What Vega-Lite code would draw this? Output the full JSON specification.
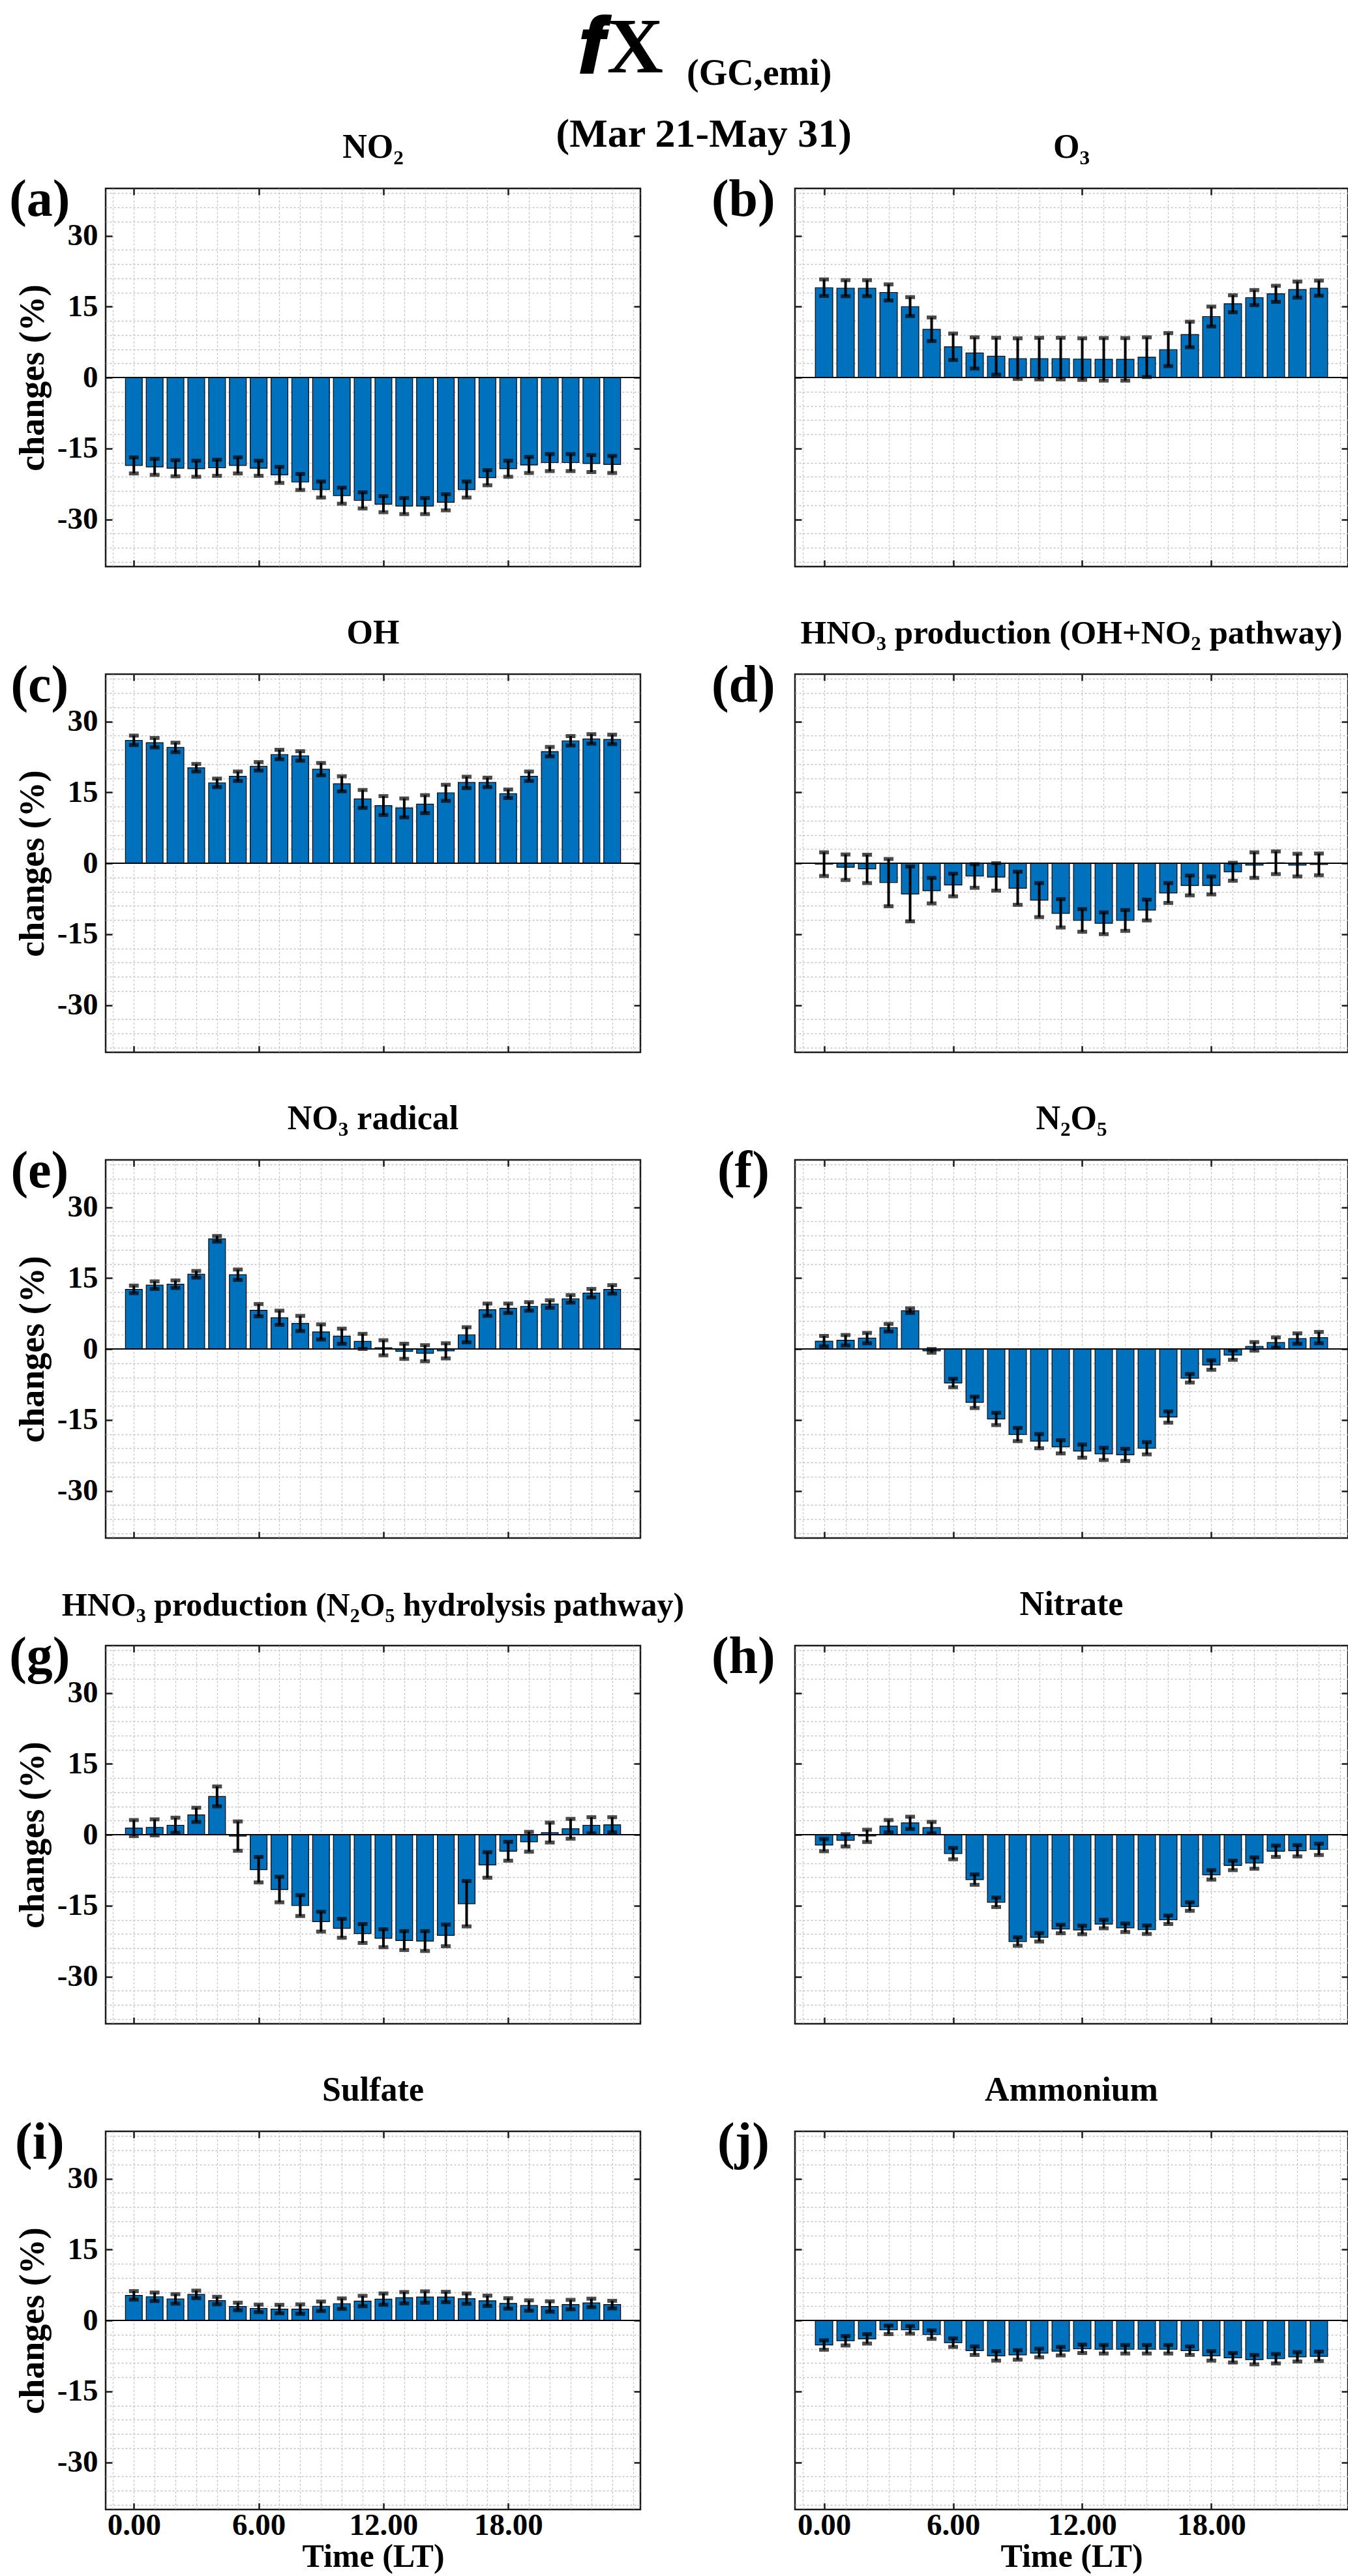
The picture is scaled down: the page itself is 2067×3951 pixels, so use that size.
{
"$schema": "https://vega.github.io/schema/vega-lite/v6.json",
"padding": {"left": 12, "top": 14, "right": 4, "bottom": 2},
"background": "white",
"config": {
  "font": "Liberation Serif",
  "view": {"stroke": "#1a1a1a", "strokeWidth": 2.5},
  "title": {"fontSize": 52, "fontWeight": "bold", "color": "#000", "offset": 14, "anchor": "middle"},
  "axis": {"grid": true, "gridColor": "#a8a8a8", "gridDash": [3, 3], "gridWidth": 1.5, "ticks": false, "domain": false, "labelFontSize": 47, "labelFontWeight": "bold", "labelColor": "#000", "titleFontSize": 54, "titleFontWeight": "bold", "titleColor": "#000", "tickColor": "#1a1a1a", "tickWidth": 2.5},
  "point": {"opacity": 0},
  "text": {"fontSize": 80, "fontWeight": "bold", "align": "center", "baseline": "middle", "color": "#000"}
},
"datasets": {
  "bars": [
{"p":"a","h":0,"v":-18.6,"e":1.7},{"p":"a","h":1,"v":-18.9,"e":1.7},{"p":"a","h":2,"v":-19.2,"e":1.7},{"p":"a","h":3,"v":-19.3,"e":1.7},{"p":"a","h":4,"v":-19.1,"e":1.7},{"p":"a","h":5,"v":-18.6,"e":1.7},{"p":"a","h":6,"v":-19.2,"e":1.6},{"p":"a","h":7,"v":-20.6,"e":1.7},{"p":"a","h":8,"v":-22.1,"e":1.7},{"p":"a","h":9,"v":-23.7,"e":1.7},{"p":"a","h":10,"v":-25.0,"e":1.7},{"p":"a","h":11,"v":-26.0,"e":1.7},{"p":"a","h":12,"v":-26.8,"e":1.7},{"p":"a","h":13,"v":-27.2,"e":1.7},{"p":"a","h":14,"v":-27.2,"e":1.7},{"p":"a","h":15,"v":-26.4,"e":1.7},{"p":"a","h":16,"v":-23.7,"e":1.7},{"p":"a","h":17,"v":-21.2,"e":1.6},{"p":"a","h":18,"v":-19.3,"e":1.7},{"p":"a","h":19,"v":-18.5,"e":1.7},{"p":"a","h":20,"v":-18.0,"e":1.8},{"p":"a","h":21,"v":-18.0,"e":1.8},{"p":"a","h":22,"v":-18.2,"e":1.8},{"p":"a","h":23,"v":-18.4,"e":1.8},
{"p":"b","h":0,"v":19.0,"e":1.75},{"p":"b","h":1,"v":18.9,"e":1.7},{"p":"b","h":2,"v":18.9,"e":1.7},{"p":"b","h":3,"v":18.0,"e":1.7},{"p":"b","h":4,"v":15.0,"e":2.0},{"p":"b","h":5,"v":10.2,"e":2.5},{"p":"b","h":6,"v":6.5,"e":2.8},{"p":"b","h":7,"v":5.2,"e":3.3},{"p":"b","h":8,"v":4.5,"e":3.9},{"p":"b","h":9,"v":4.0,"e":4.3},{"p":"b","h":10,"v":4.0,"e":4.4},{"p":"b","h":11,"v":4.0,"e":4.4},{"p":"b","h":12,"v":3.9,"e":4.4},{"p":"b","h":13,"v":3.85,"e":4.5},{"p":"b","h":14,"v":3.85,"e":4.5},{"p":"b","h":15,"v":4.3,"e":4.2},{"p":"b","h":16,"v":5.9,"e":3.5},{"p":"b","h":17,"v":9.1,"e":2.7},{"p":"b","h":18,"v":12.9,"e":2.1},{"p":"b","h":19,"v":15.6,"e":1.8},{"p":"b","h":20,"v":16.9,"e":1.6},{"p":"b","h":21,"v":17.7,"e":1.7},{"p":"b","h":22,"v":18.6,"e":1.7},{"p":"b","h":23,"v":18.9,"e":1.6},
{"p":"c","h":0,"v":26.0,"e":1.0},{"p":"c","h":1,"v":25.5,"e":1.0},{"p":"c","h":2,"v":24.5,"e":1.0},{"p":"c","h":3,"v":20.2,"e":0.8},{"p":"c","h":4,"v":17.0,"e":0.9},{"p":"c","h":5,"v":18.4,"e":1.0},{"p":"c","h":6,"v":20.5,"e":0.9},{"p":"c","h":7,"v":23.0,"e":1.0},{"p":"c","h":8,"v":22.7,"e":1.0},{"p":"c","h":9,"v":19.9,"e":1.3},{"p":"c","h":10,"v":16.8,"e":1.6},{"p":"c","h":11,"v":13.6,"e":1.9},{"p":"c","h":12,"v":12.2,"e":2.0},{"p":"c","h":13,"v":11.7,"e":2.0},{"p":"c","h":14,"v":12.5,"e":1.9},{"p":"c","h":15,"v":14.9,"e":1.7},{"p":"c","h":16,"v":17.1,"e":1.2},{"p":"c","h":17,"v":17.1,"e":1.0},{"p":"c","h":18,"v":14.7,"e":0.9},{"p":"c","h":19,"v":18.4,"e":1.0},{"p":"c","h":20,"v":23.6,"e":1.0},{"p":"c","h":21,"v":25.9,"e":1.0},{"p":"c","h":22,"v":26.3,"e":1.0},{"p":"c","h":23,"v":26.2,"e":1.0},
{"p":"d","h":0,"v":-0.2,"e":2.5},{"p":"d","h":1,"v":-0.85,"e":2.7},{"p":"d","h":2,"v":-1.2,"e":3.0},{"p":"d","h":3,"v":-4.1,"e":5.0},{"p":"d","h":4,"v":-6.5,"e":5.8},{"p":"d","h":5,"v":-5.8,"e":2.7},{"p":"d","h":6,"v":-4.6,"e":2.4},{"p":"d","h":7,"v":-2.7,"e":2.5},{"p":"d","h":8,"v":-2.9,"e":2.9},{"p":"d","h":9,"v":-5.3,"e":3.5},{"p":"d","h":10,"v":-7.8,"e":3.6},{"p":"d","h":11,"v":-10.6,"e":3.0},{"p":"d","h":12,"v":-12.1,"e":2.4},{"p":"d","h":13,"v":-12.7,"e":2.3},{"p":"d","h":14,"v":-12.1,"e":2.2},{"p":"d","h":15,"v":-9.9,"e":2.2},{"p":"d","h":16,"v":-6.3,"e":2.1},{"p":"d","h":17,"v":-4.7,"e":2.1},{"p":"d","h":18,"v":-4.7,"e":1.9},{"p":"d","h":19,"v":-1.8,"e":1.9},{"p":"d","h":20,"v":-0.4,"e":2.7},{"p":"d","h":21,"v":0.1,"e":2.4},{"p":"d","h":22,"v":-0.4,"e":2.4},{"p":"d","h":23,"v":-0.25,"e":2.3},
{"p":"e","h":0,"v":12.6,"e":0.8},{"p":"e","h":1,"v":13.5,"e":0.8},{"p":"e","h":2,"v":13.7,"e":0.8},{"p":"e","h":3,"v":15.8,"e":0.7},{"p":"e","h":4,"v":23.3,"e":0.6},{"p":"e","h":5,"v":15.7,"e":1.1},{"p":"e","h":6,"v":8.2,"e":1.3},{"p":"e","h":7,"v":6.6,"e":1.5},{"p":"e","h":8,"v":5.4,"e":1.6},{"p":"e","h":9,"v":3.6,"e":1.6},{"p":"e","h":10,"v":2.7,"e":1.6},{"p":"e","h":11,"v":1.6,"e":1.6},{"p":"e","h":12,"v":0.25,"e":1.6},{"p":"e","h":13,"v":-0.5,"e":1.6},{"p":"e","h":14,"v":-0.9,"e":1.7},{"p":"e","h":15,"v":-0.4,"e":1.6},{"p":"e","h":16,"v":3.0,"e":1.6},{"p":"e","h":17,"v":8.3,"e":1.3},{"p":"e","h":18,"v":8.6,"e":1.0},{"p":"e","h":19,"v":9.0,"e":0.9},{"p":"e","h":20,"v":9.5,"e":0.8},{"p":"e","h":21,"v":10.6,"e":0.8},{"p":"e","h":22,"v":11.8,"e":0.9},{"p":"e","h":23,"v":12.6,"e":0.9},
{"p":"f","h":0,"v":1.65,"e":1.1},{"p":"f","h":1,"v":1.85,"e":1.1},{"p":"f","h":2,"v":2.3,"e":1.1},{"p":"f","h":3,"v":4.5,"e":0.8},{"p":"f","h":4,"v":8.1,"e":0.5},{"p":"f","h":5,"v":-0.4,"e":0.4},{"p":"f","h":6,"v":-7.2,"e":0.9},{"p":"f","h":7,"v":-11.3,"e":1.2},{"p":"f","h":8,"v":-14.8,"e":1.3},{"p":"f","h":9,"v":-18.1,"e":1.4},{"p":"f","h":10,"v":-19.5,"e":1.5},{"p":"f","h":11,"v":-20.7,"e":1.4},{"p":"f","h":12,"v":-21.6,"e":1.4},{"p":"f","h":13,"v":-22.2,"e":1.3},{"p":"f","h":14,"v":-22.4,"e":1.3},{"p":"f","h":15,"v":-21.0,"e":1.3},{"p":"f","h":16,"v":-14.4,"e":1.2},{"p":"f","h":17,"v":-6.2,"e":0.9},{"p":"f","h":18,"v":-3.4,"e":1.0},{"p":"f","h":19,"v":-1.3,"e":1.0},{"p":"f","h":20,"v":0.55,"e":0.9},{"p":"f","h":21,"v":1.35,"e":1.1},{"p":"f","h":22,"v":2.2,"e":1.1},{"p":"f","h":23,"v":2.4,"e":1.2},
{"p":"g","h":0,"v":1.4,"e":1.7},{"p":"g","h":1,"v":1.55,"e":1.7},{"p":"g","h":2,"v":2.0,"e":1.6},{"p":"g","h":3,"v":4.2,"e":1.5},{"p":"g","h":4,"v":8.1,"e":2.1},{"p":"g","h":5,"v":-0.3,"e":3.1},{"p":"g","h":6,"v":-7.4,"e":2.7},{"p":"g","h":7,"v":-11.6,"e":2.7},{"p":"g","h":8,"v":-15.0,"e":2.2},{"p":"g","h":9,"v":-18.4,"e":2.1},{"p":"g","h":10,"v":-19.8,"e":2.0},{"p":"g","h":11,"v":-20.9,"e":2.0},{"p":"g","h":12,"v":-21.9,"e":1.9},{"p":"g","h":13,"v":-22.4,"e":2.0},{"p":"g","h":14,"v":-22.5,"e":2.1},{"p":"g","h":15,"v":-21.3,"e":2.3},{"p":"g","h":16,"v":-14.6,"e":4.8},{"p":"g","h":17,"v":-6.4,"e":2.7},{"p":"g","h":18,"v":-3.5,"e":2.0},{"p":"g","h":19,"v":-1.5,"e":2.1},{"p":"g","h":20,"v":0.45,"e":2.1},{"p":"g","h":21,"v":1.25,"e":2.1},{"p":"g","h":22,"v":2.0,"e":1.7},{"p":"g","h":23,"v":2.1,"e":1.6},
{"p":"h","h":0,"v":-2.2,"e":1.3},{"p":"h","h":1,"v":-1.2,"e":1.3},{"p":"h","h":2,"v":-0.25,"e":1.3},{"p":"h","h":3,"v":1.8,"e":1.3},{"p":"h","h":4,"v":2.5,"e":1.3},{"p":"h","h":5,"v":1.5,"e":1.2},{"p":"h","h":6,"v":-4.0,"e":1.2},{"p":"h","h":7,"v":-9.5,"e":1.1},{"p":"h","h":8,"v":-14.3,"e":1.0},{"p":"h","h":9,"v":-22.6,"e":0.9},{"p":"h","h":10,"v":-21.7,"e":0.9},{"p":"h","h":11,"v":-19.95,"e":0.9},{"p":"h","h":12,"v":-20.15,"e":0.9},{"p":"h","h":13,"v":-18.9,"e":0.9},{"p":"h","h":14,"v":-19.7,"e":0.9},{"p":"h","h":15,"v":-20.1,"e":0.9},{"p":"h","h":16,"v":-18.0,"e":0.9},{"p":"h","h":17,"v":-15.2,"e":0.9},{"p":"h","h":18,"v":-8.5,"e":1.0},{"p":"h","h":19,"v":-6.5,"e":1.0},{"p":"h","h":20,"v":-6.0,"e":1.2},{"p":"h","h":21,"v":-3.5,"e":1.2},{"p":"h","h":22,"v":-3.4,"e":1.2},{"p":"h","h":23,"v":-3.1,"e":1.2},
{"p":"i","h":0,"v":5.3,"e":0.9},{"p":"i","h":1,"v":5.0,"e":0.9},{"p":"i","h":2,"v":4.55,"e":1.0},{"p":"i","h":3,"v":5.5,"e":0.8},{"p":"i","h":4,"v":4.2,"e":0.8},{"p":"i","h":5,"v":2.95,"e":0.8},{"p":"i","h":6,"v":2.55,"e":0.8},{"p":"i","h":7,"v":2.4,"e":0.9},{"p":"i","h":8,"v":2.4,"e":1.0},{"p":"i","h":9,"v":3.0,"e":1.0},{"p":"i","h":10,"v":3.55,"e":1.1},{"p":"i","h":11,"v":4.1,"e":1.1},{"p":"i","h":12,"v":4.5,"e":1.2},{"p":"i","h":13,"v":4.8,"e":1.2},{"p":"i","h":14,"v":4.95,"e":1.2},{"p":"i","h":15,"v":4.95,"e":1.1},{"p":"i","h":16,"v":4.6,"e":1.1},{"p":"i","h":17,"v":4.15,"e":1.1},{"p":"i","h":18,"v":3.6,"e":1.1},{"p":"i","h":19,"v":3.15,"e":1.1},{"p":"i","h":20,"v":2.95,"e":1.1},{"p":"i","h":21,"v":3.35,"e":1.0},{"p":"i","h":22,"v":3.7,"e":0.9},{"p":"i","h":23,"v":3.35,"e":0.8},
{"p":"j","h":0,"v":-5.2,"e":1.0},{"p":"j","h":1,"v":-4.3,"e":1.0},{"p":"j","h":2,"v":-3.9,"e":1.0},{"p":"j","h":3,"v":-2.0,"e":0.9},{"p":"j","h":4,"v":-2.0,"e":0.8},{"p":"j","h":5,"v":-3.0,"e":0.9},{"p":"j","h":6,"v":-4.7,"e":0.9},{"p":"j","h":7,"v":-6.4,"e":0.9},{"p":"j","h":8,"v":-7.5,"e":1.0},{"p":"j","h":9,"v":-7.3,"e":1.0},{"p":"j","h":10,"v":-6.9,"e":0.9},{"p":"j","h":11,"v":-6.5,"e":0.9},{"p":"j","h":12,"v":-6.0,"e":0.9},{"p":"j","h":13,"v":-6.1,"e":0.9},{"p":"j","h":14,"v":-6.1,"e":0.9},{"p":"j","h":15,"v":-6.1,"e":0.9},{"p":"j","h":16,"v":-6.1,"e":0.9},{"p":"j","h":17,"v":-6.4,"e":0.9},{"p":"j","h":18,"v":-7.5,"e":1.0},{"p":"j","h":19,"v":-7.9,"e":1.0},{"p":"j","h":20,"v":-8.3,"e":1.0},{"p":"j","h":21,"v":-8.1,"e":1.0},{"p":"j","h":22,"v":-7.7,"e":1.0},{"p":"j","h":23,"v":-7.6,"e":1.0}
  ]
},
"title": {"text": "𝒇X\u2800\u2800", "subtitle": "\u2800\u2800\u2800\u2800\u2800\u2800(GC,emi)", "fontSize": 120, "fontWeight": "bold", "subtitleFontSize": 56, "subtitleFontWeight": "bold", "subtitleColor": "#000", "subtitleFont": "Liberation Serif", "subtitlePadding": -50, "offset": 33, "dx": 0, "anchor": "middle"},
"vconcat": [
{
"title": {"text": "(Mar 21-May 31)", "fontSize": 62, "offset": -39, "dx": 38},
"columns": 2,
"spacing": {"row": 165, "column": 237},
"bounds": "flush",
"align": "each",
"concat": [
{"width": 820, "height": 580, "title": "NO₂", "data": {"name": "bars"}, "transform": [{"filter": "datum.p === 'a'"}],
 "resolve": {"axis": {"x": "independent", "y": "independent"}},
 "layer": [
  {"mark": "point", "encoding": {"x": {"field": "h", "type": "quantitative", "scale": {"domain": [-1.2, 24.2], "nice": false, "zero": false}, "axis": {"orient": "bottom", "values": [-1,0,1,2,3,4,5,6,7,8,9,10,11,12,13,14,15,16,17,18,19,20,21,22,23,24], "labels": false, "title": null, "gridColor": "#c4c4c4", "gridWidth": 1.3}}, "y": {"field": "v", "type": "quantitative", "scale": {"domain": [-40, 40], "nice": false}, "axis": {"orient": "left", "values": [-39,-36,-33,-27,-24,-21,-18,-12,-9,-6,-3,3,6,9,12,18,21,24,27,33,36,39], "labels": false, "title": null, "gridColor": "#c4c4c4", "gridWidth": 1.3}}}},
  {"mark": "point", "encoding": {"x": {"field": "h", "type": "quantitative", "axis": {"orient": "top", "values": [0, 6, 12, 18], "grid": false, "labels": false, "ticks": true, "tickSize": -10, "title": null}}, "y": {"field": "v", "type": "quantitative", "axis": {"orient": "right", "values": [-30, -15, 0, 15, 30], "grid": false, "labels": false, "ticks": true, "tickSize": -10, "title": null}}}},
  {"mark": "point", "encoding": {"x": {"field": "h", "type": "quantitative", "axis": {"orient": "bottom", "values": [0, 6, 12, 18], "grid": false, "labels": false, "ticks": true, "tickSize": -10, "title": null}}, "y": {"field": "v", "type": "quantitative", "axis": {"orient": "left", "values": [-30, -15, 0, 15, 30], "grid": false, "labels": false, "ticks": true, "tickSize": -10, "title": null}}}},
  {"mark": {"type": "bar", "width": 25.8, "color": "#0072BD", "stroke": "#000", "strokeWidth": 1.2},
   "encoding": {"x": {"field": "h", "type": "quantitative", "axis": {"orient": "bottom", "values": [0, 6, 12, 18], "labels": false, "title": null}},
                "y": {"field": "v", "type": "quantitative", "axis": {"orient": "left", "values": [-30, -15, 0, 15, 30], "labelExpr": "'' + datum.value", "labelPadding": 12, "title": "changes (%)", "titlePadding": 10}}}},
  {"data": {"values": [{"z": 0}]}, "mark": {"type": "rule", "color": "#000", "strokeWidth": 2}, "encoding": {"y": {"field": "z", "type": "quantitative", "axis": null}}},
  {"mark": {"type": "errorbar", "color": "#000", "thickness": 4, "ticks": {"size": 15, "thickness": 6}},
   "encoding": {"x": {"field": "h", "type": "quantitative", "axis": null}, "y": {"field": "v", "type": "quantitative", "axis": null}, "yError": {"field": "e"}}},
  {"data": {"values": [{"l": "(a)"}]}, "mark": "text", "encoding": {"text": {"field": "l"}, "x": {"datum": -4.53, "type": "quantitative", "axis": null}, "y": {"datum": 37.5, "type": "quantitative", "axis": null}}}
 ]},
{"width": 848, "height": 580, "title": "O₃", "data": {"name": "bars"}, "transform": [{"filter": "datum.p === 'b'"}],
 "resolve": {"axis": {"x": "independent", "y": "independent"}},
 "layer": [
  {"mark": "point", "encoding": {"x": {"field": "h", "type": "quantitative", "scale": {"domain": [-1.2, 24.2], "nice": false, "zero": false}, "axis": {"orient": "bottom", "values": [-1,0,1,2,3,4,5,6,7,8,9,10,11,12,13,14,15,16,17,18,19,20,21,22,23,24], "labels": false, "title": null, "gridColor": "#c4c4c4", "gridWidth": 1.3}}, "y": {"field": "v", "type": "quantitative", "scale": {"domain": [-40, 40], "nice": false}, "axis": {"orient": "left", "values": [-39,-36,-33,-27,-24,-21,-18,-12,-9,-6,-3,3,6,9,12,18,21,24,27,33,36,39], "labels": false, "title": null, "gridColor": "#c4c4c4", "gridWidth": 1.3}}}},
  {"mark": "point", "encoding": {"x": {"field": "h", "type": "quantitative", "axis": {"orient": "top", "values": [0, 6, 12, 18], "grid": false, "labels": false, "ticks": true, "tickSize": -10, "title": null}}, "y": {"field": "v", "type": "quantitative", "axis": {"orient": "right", "values": [-30, -15, 0, 15, 30], "grid": false, "labels": false, "ticks": true, "tickSize": -10, "title": null}}}},
  {"mark": "point", "encoding": {"x": {"field": "h", "type": "quantitative", "axis": {"orient": "bottom", "values": [0, 6, 12, 18], "grid": false, "labels": false, "ticks": true, "tickSize": -10, "title": null}}, "y": {"field": "v", "type": "quantitative", "axis": {"orient": "left", "values": [-30, -15, 0, 15, 30], "grid": false, "labels": false, "ticks": true, "tickSize": -10, "title": null}}}},
  {"mark": {"type": "bar", "width": 26.7, "color": "#0072BD", "stroke": "#000", "strokeWidth": 1.2},
   "encoding": {"x": {"field": "h", "type": "quantitative", "axis": {"orient": "bottom", "values": [0, 6, 12, 18], "labels": false, "title": null}},
                "y": {"field": "v", "type": "quantitative", "axis": {"orient": "left", "values": [-30, -15, 0, 15, 30], "labels": false, "title": null}}}},
  {"data": {"values": [{"z": 0}]}, "mark": {"type": "rule", "color": "#000", "strokeWidth": 2}, "encoding": {"y": {"field": "z", "type": "quantitative", "axis": null}}},
  {"mark": {"type": "errorbar", "color": "#000", "thickness": 4, "ticks": {"size": 15, "thickness": 6}},
   "encoding": {"x": {"field": "h", "type": "quantitative", "axis": null}, "y": {"field": "v", "type": "quantitative", "axis": null}, "yError": {"field": "e"}}},
  {"data": {"values": [{"l": "(b)"}]}, "mark": "text", "encoding": {"text": {"field": "l"}, "x": {"datum": -3.75, "type": "quantitative", "axis": null}, "y": {"datum": 37.5, "type": "quantitative", "axis": null}}}
 ]},
{"width": 820, "height": 580, "title": "OH", "data": {"name": "bars"}, "transform": [{"filter": "datum.p === 'c'"}],
 "resolve": {"axis": {"x": "independent", "y": "independent"}},
 "layer": [
  {"mark": "point", "encoding": {"x": {"field": "h", "type": "quantitative", "scale": {"domain": [-1.2, 24.2], "nice": false, "zero": false}, "axis": {"orient": "bottom", "values": [-1,0,1,2,3,4,5,6,7,8,9,10,11,12,13,14,15,16,17,18,19,20,21,22,23,24], "labels": false, "title": null, "gridColor": "#c4c4c4", "gridWidth": 1.3}}, "y": {"field": "v", "type": "quantitative", "scale": {"domain": [-40, 40], "nice": false}, "axis": {"orient": "left", "values": [-39,-36,-33,-27,-24,-21,-18,-12,-9,-6,-3,3,6,9,12,18,21,24,27,33,36,39], "labels": false, "title": null, "gridColor": "#c4c4c4", "gridWidth": 1.3}}}},
  {"mark": "point", "encoding": {"x": {"field": "h", "type": "quantitative", "axis": {"orient": "top", "values": [0, 6, 12, 18], "grid": false, "labels": false, "ticks": true, "tickSize": -10, "title": null}}, "y": {"field": "v", "type": "quantitative", "axis": {"orient": "right", "values": [-30, -15, 0, 15, 30], "grid": false, "labels": false, "ticks": true, "tickSize": -10, "title": null}}}},
  {"mark": "point", "encoding": {"x": {"field": "h", "type": "quantitative", "axis": {"orient": "bottom", "values": [0, 6, 12, 18], "grid": false, "labels": false, "ticks": true, "tickSize": -10, "title": null}}, "y": {"field": "v", "type": "quantitative", "axis": {"orient": "left", "values": [-30, -15, 0, 15, 30], "grid": false, "labels": false, "ticks": true, "tickSize": -10, "title": null}}}},
  {"mark": {"type": "bar", "width": 25.8, "color": "#0072BD", "stroke": "#000", "strokeWidth": 1.2},
   "encoding": {"x": {"field": "h", "type": "quantitative", "axis": {"orient": "bottom", "values": [0, 6, 12, 18], "labels": false, "title": null}},
                "y": {"field": "v", "type": "quantitative", "axis": {"orient": "left", "values": [-30, -15, 0, 15, 30], "labelExpr": "'' + datum.value", "labelPadding": 12, "title": "changes (%)", "titlePadding": 10}}}},
  {"data": {"values": [{"z": 0}]}, "mark": {"type": "rule", "color": "#000", "strokeWidth": 2}, "encoding": {"y": {"field": "z", "type": "quantitative", "axis": null}}},
  {"mark": {"type": "errorbar", "color": "#000", "thickness": 4, "ticks": {"size": 15, "thickness": 6}},
   "encoding": {"x": {"field": "h", "type": "quantitative", "axis": null}, "y": {"field": "v", "type": "quantitative", "axis": null}, "yError": {"field": "e"}}},
  {"data": {"values": [{"l": "(c)"}]}, "mark": "text", "encoding": {"text": {"field": "l"}, "x": {"datum": -4.53, "type": "quantitative", "axis": null}, "y": {"datum": 37.5, "type": "quantitative", "axis": null}}}
 ]},
{"width": 848, "height": 580, "title": {"text": "HNO₃ production (OH+NO₂ pathway)", "fontSize": 51}, "data": {"name": "bars"}, "transform": [{"filter": "datum.p === 'd'"}],
 "resolve": {"axis": {"x": "independent", "y": "independent"}},
 "layer": [
  {"mark": "point", "encoding": {"x": {"field": "h", "type": "quantitative", "scale": {"domain": [-1.2, 24.2], "nice": false, "zero": false}, "axis": {"orient": "bottom", "values": [-1,0,1,2,3,4,5,6,7,8,9,10,11,12,13,14,15,16,17,18,19,20,21,22,23,24], "labels": false, "title": null, "gridColor": "#c4c4c4", "gridWidth": 1.3}}, "y": {"field": "v", "type": "quantitative", "scale": {"domain": [-40, 40], "nice": false}, "axis": {"orient": "left", "values": [-39,-36,-33,-27,-24,-21,-18,-12,-9,-6,-3,3,6,9,12,18,21,24,27,33,36,39], "labels": false, "title": null, "gridColor": "#c4c4c4", "gridWidth": 1.3}}}},
  {"mark": "point", "encoding": {"x": {"field": "h", "type": "quantitative", "axis": {"orient": "top", "values": [0, 6, 12, 18], "grid": false, "labels": false, "ticks": true, "tickSize": -10, "title": null}}, "y": {"field": "v", "type": "quantitative", "axis": {"orient": "right", "values": [-30, -15, 0, 15, 30], "grid": false, "labels": false, "ticks": true, "tickSize": -10, "title": null}}}},
  {"mark": "point", "encoding": {"x": {"field": "h", "type": "quantitative", "axis": {"orient": "bottom", "values": [0, 6, 12, 18], "grid": false, "labels": false, "ticks": true, "tickSize": -10, "title": null}}, "y": {"field": "v", "type": "quantitative", "axis": {"orient": "left", "values": [-30, -15, 0, 15, 30], "grid": false, "labels": false, "ticks": true, "tickSize": -10, "title": null}}}},
  {"mark": {"type": "bar", "width": 26.7, "color": "#0072BD", "stroke": "#000", "strokeWidth": 1.2},
   "encoding": {"x": {"field": "h", "type": "quantitative", "axis": {"orient": "bottom", "values": [0, 6, 12, 18], "labels": false, "title": null}},
                "y": {"field": "v", "type": "quantitative", "axis": {"orient": "left", "values": [-30, -15, 0, 15, 30], "labels": false, "title": null}}}},
  {"data": {"values": [{"z": 0}]}, "mark": {"type": "rule", "color": "#000", "strokeWidth": 2}, "encoding": {"y": {"field": "z", "type": "quantitative", "axis": null}}},
  {"mark": {"type": "errorbar", "color": "#000", "thickness": 4, "ticks": {"size": 15, "thickness": 6}},
   "encoding": {"x": {"field": "h", "type": "quantitative", "axis": null}, "y": {"field": "v", "type": "quantitative", "axis": null}, "yError": {"field": "e"}}},
  {"data": {"values": [{"l": "(d)"}]}, "mark": "text", "encoding": {"text": {"field": "l"}, "x": {"datum": -3.75, "type": "quantitative", "axis": null}, "y": {"datum": 37.5, "type": "quantitative", "axis": null}}}
 ]},
{"width": 820, "height": 580, "title": "NO₃ radical", "data": {"name": "bars"}, "transform": [{"filter": "datum.p === 'e'"}],
 "resolve": {"axis": {"x": "independent", "y": "independent"}},
 "layer": [
  {"mark": "point", "encoding": {"x": {"field": "h", "type": "quantitative", "scale": {"domain": [-1.2, 24.2], "nice": false, "zero": false}, "axis": {"orient": "bottom", "values": [-1,0,1,2,3,4,5,6,7,8,9,10,11,12,13,14,15,16,17,18,19,20,21,22,23,24], "labels": false, "title": null, "gridColor": "#c4c4c4", "gridWidth": 1.3}}, "y": {"field": "v", "type": "quantitative", "scale": {"domain": [-40, 40], "nice": false}, "axis": {"orient": "left", "values": [-39,-36,-33,-27,-24,-21,-18,-12,-9,-6,-3,3,6,9,12,18,21,24,27,33,36,39], "labels": false, "title": null, "gridColor": "#c4c4c4", "gridWidth": 1.3}}}},
  {"mark": "point", "encoding": {"x": {"field": "h", "type": "quantitative", "axis": {"orient": "top", "values": [0, 6, 12, 18], "grid": false, "labels": false, "ticks": true, "tickSize": -10, "title": null}}, "y": {"field": "v", "type": "quantitative", "axis": {"orient": "right", "values": [-30, -15, 0, 15, 30], "grid": false, "labels": false, "ticks": true, "tickSize": -10, "title": null}}}},
  {"mark": "point", "encoding": {"x": {"field": "h", "type": "quantitative", "axis": {"orient": "bottom", "values": [0, 6, 12, 18], "grid": false, "labels": false, "ticks": true, "tickSize": -10, "title": null}}, "y": {"field": "v", "type": "quantitative", "axis": {"orient": "left", "values": [-30, -15, 0, 15, 30], "grid": false, "labels": false, "ticks": true, "tickSize": -10, "title": null}}}},
  {"mark": {"type": "bar", "width": 25.8, "color": "#0072BD", "stroke": "#000", "strokeWidth": 1.2},
   "encoding": {"x": {"field": "h", "type": "quantitative", "axis": {"orient": "bottom", "values": [0, 6, 12, 18], "labels": false, "title": null}},
                "y": {"field": "v", "type": "quantitative", "axis": {"orient": "left", "values": [-30, -15, 0, 15, 30], "labelExpr": "'' + datum.value", "labelPadding": 12, "title": "changes (%)", "titlePadding": 10}}}},
  {"data": {"values": [{"z": 0}]}, "mark": {"type": "rule", "color": "#000", "strokeWidth": 2}, "encoding": {"y": {"field": "z", "type": "quantitative", "axis": null}}},
  {"mark": {"type": "errorbar", "color": "#000", "thickness": 4, "ticks": {"size": 15, "thickness": 6}},
   "encoding": {"x": {"field": "h", "type": "quantitative", "axis": null}, "y": {"field": "v", "type": "quantitative", "axis": null}, "yError": {"field": "e"}}},
  {"data": {"values": [{"l": "(e)"}]}, "mark": "text", "encoding": {"text": {"field": "l"}, "x": {"datum": -4.53, "type": "quantitative", "axis": null}, "y": {"datum": 37.5, "type": "quantitative", "axis": null}}}
 ]},
{"width": 848, "height": 580, "title": "N₂O₅", "data": {"name": "bars"}, "transform": [{"filter": "datum.p === 'f'"}],
 "resolve": {"axis": {"x": "independent", "y": "independent"}},
 "layer": [
  {"mark": "point", "encoding": {"x": {"field": "h", "type": "quantitative", "scale": {"domain": [-1.2, 24.2], "nice": false, "zero": false}, "axis": {"orient": "bottom", "values": [-1,0,1,2,3,4,5,6,7,8,9,10,11,12,13,14,15,16,17,18,19,20,21,22,23,24], "labels": false, "title": null, "gridColor": "#c4c4c4", "gridWidth": 1.3}}, "y": {"field": "v", "type": "quantitative", "scale": {"domain": [-40, 40], "nice": false}, "axis": {"orient": "left", "values": [-39,-36,-33,-27,-24,-21,-18,-12,-9,-6,-3,3,6,9,12,18,21,24,27,33,36,39], "labels": false, "title": null, "gridColor": "#c4c4c4", "gridWidth": 1.3}}}},
  {"mark": "point", "encoding": {"x": {"field": "h", "type": "quantitative", "axis": {"orient": "top", "values": [0, 6, 12, 18], "grid": false, "labels": false, "ticks": true, "tickSize": -10, "title": null}}, "y": {"field": "v", "type": "quantitative", "axis": {"orient": "right", "values": [-30, -15, 0, 15, 30], "grid": false, "labels": false, "ticks": true, "tickSize": -10, "title": null}}}},
  {"mark": "point", "encoding": {"x": {"field": "h", "type": "quantitative", "axis": {"orient": "bottom", "values": [0, 6, 12, 18], "grid": false, "labels": false, "ticks": true, "tickSize": -10, "title": null}}, "y": {"field": "v", "type": "quantitative", "axis": {"orient": "left", "values": [-30, -15, 0, 15, 30], "grid": false, "labels": false, "ticks": true, "tickSize": -10, "title": null}}}},
  {"mark": {"type": "bar", "width": 26.7, "color": "#0072BD", "stroke": "#000", "strokeWidth": 1.2},
   "encoding": {"x": {"field": "h", "type": "quantitative", "axis": {"orient": "bottom", "values": [0, 6, 12, 18], "labels": false, "title": null}},
                "y": {"field": "v", "type": "quantitative", "axis": {"orient": "left", "values": [-30, -15, 0, 15, 30], "labels": false, "title": null}}}},
  {"data": {"values": [{"z": 0}]}, "mark": {"type": "rule", "color": "#000", "strokeWidth": 2}, "encoding": {"y": {"field": "z", "type": "quantitative", "axis": null}}},
  {"mark": {"type": "errorbar", "color": "#000", "thickness": 4, "ticks": {"size": 15, "thickness": 6}},
   "encoding": {"x": {"field": "h", "type": "quantitative", "axis": null}, "y": {"field": "v", "type": "quantitative", "axis": null}, "yError": {"field": "e"}}},
  {"data": {"values": [{"l": "(f)"}]}, "mark": "text", "encoding": {"text": {"field": "l"}, "x": {"datum": -3.75, "type": "quantitative", "axis": null}, "y": {"datum": 37.5, "type": "quantitative", "axis": null}}}
 ]},
{"width": 820, "height": 580, "title": {"text": "HNO₃ production (N₂O₅ hydrolysis pathway)", "fontSize": 50}, "data": {"name": "bars"}, "transform": [{"filter": "datum.p === 'g'"}],
 "resolve": {"axis": {"x": "independent", "y": "independent"}},
 "layer": [
  {"mark": "point", "encoding": {"x": {"field": "h", "type": "quantitative", "scale": {"domain": [-1.2, 24.2], "nice": false, "zero": false}, "axis": {"orient": "bottom", "values": [-1,0,1,2,3,4,5,6,7,8,9,10,11,12,13,14,15,16,17,18,19,20,21,22,23,24], "labels": false, "title": null, "gridColor": "#c4c4c4", "gridWidth": 1.3}}, "y": {"field": "v", "type": "quantitative", "scale": {"domain": [-40, 40], "nice": false}, "axis": {"orient": "left", "values": [-39,-36,-33,-27,-24,-21,-18,-12,-9,-6,-3,3,6,9,12,18,21,24,27,33,36,39], "labels": false, "title": null, "gridColor": "#c4c4c4", "gridWidth": 1.3}}}},
  {"mark": "point", "encoding": {"x": {"field": "h", "type": "quantitative", "axis": {"orient": "top", "values": [0, 6, 12, 18], "grid": false, "labels": false, "ticks": true, "tickSize": -10, "title": null}}, "y": {"field": "v", "type": "quantitative", "axis": {"orient": "right", "values": [-30, -15, 0, 15, 30], "grid": false, "labels": false, "ticks": true, "tickSize": -10, "title": null}}}},
  {"mark": "point", "encoding": {"x": {"field": "h", "type": "quantitative", "axis": {"orient": "bottom", "values": [0, 6, 12, 18], "grid": false, "labels": false, "ticks": true, "tickSize": -10, "title": null}}, "y": {"field": "v", "type": "quantitative", "axis": {"orient": "left", "values": [-30, -15, 0, 15, 30], "grid": false, "labels": false, "ticks": true, "tickSize": -10, "title": null}}}},
  {"mark": {"type": "bar", "width": 25.8, "color": "#0072BD", "stroke": "#000", "strokeWidth": 1.2},
   "encoding": {"x": {"field": "h", "type": "quantitative", "axis": {"orient": "bottom", "values": [0, 6, 12, 18], "labels": false, "title": null}},
                "y": {"field": "v", "type": "quantitative", "axis": {"orient": "left", "values": [-30, -15, 0, 15, 30], "labelExpr": "'' + datum.value", "labelPadding": 12, "title": "changes (%)", "titlePadding": 10}}}},
  {"data": {"values": [{"z": 0}]}, "mark": {"type": "rule", "color": "#000", "strokeWidth": 2}, "encoding": {"y": {"field": "z", "type": "quantitative", "axis": null}}},
  {"mark": {"type": "errorbar", "color": "#000", "thickness": 4, "ticks": {"size": 15, "thickness": 6}},
   "encoding": {"x": {"field": "h", "type": "quantitative", "axis": null}, "y": {"field": "v", "type": "quantitative", "axis": null}, "yError": {"field": "e"}}},
  {"data": {"values": [{"l": "(g)"}]}, "mark": "text", "encoding": {"text": {"field": "l"}, "x": {"datum": -4.53, "type": "quantitative", "axis": null}, "y": {"datum": 37.5, "type": "quantitative", "axis": null}}}
 ]},
{"width": 848, "height": 580, "title": "Nitrate", "data": {"name": "bars"}, "transform": [{"filter": "datum.p === 'h'"}],
 "resolve": {"axis": {"x": "independent", "y": "independent"}},
 "layer": [
  {"mark": "point", "encoding": {"x": {"field": "h", "type": "quantitative", "scale": {"domain": [-1.2, 24.2], "nice": false, "zero": false}, "axis": {"orient": "bottom", "values": [-1,0,1,2,3,4,5,6,7,8,9,10,11,12,13,14,15,16,17,18,19,20,21,22,23,24], "labels": false, "title": null, "gridColor": "#c4c4c4", "gridWidth": 1.3}}, "y": {"field": "v", "type": "quantitative", "scale": {"domain": [-40, 40], "nice": false}, "axis": {"orient": "left", "values": [-39,-36,-33,-27,-24,-21,-18,-12,-9,-6,-3,3,6,9,12,18,21,24,27,33,36,39], "labels": false, "title": null, "gridColor": "#c4c4c4", "gridWidth": 1.3}}}},
  {"mark": "point", "encoding": {"x": {"field": "h", "type": "quantitative", "axis": {"orient": "top", "values": [0, 6, 12, 18], "grid": false, "labels": false, "ticks": true, "tickSize": -10, "title": null}}, "y": {"field": "v", "type": "quantitative", "axis": {"orient": "right", "values": [-30, -15, 0, 15, 30], "grid": false, "labels": false, "ticks": true, "tickSize": -10, "title": null}}}},
  {"mark": "point", "encoding": {"x": {"field": "h", "type": "quantitative", "axis": {"orient": "bottom", "values": [0, 6, 12, 18], "grid": false, "labels": false, "ticks": true, "tickSize": -10, "title": null}}, "y": {"field": "v", "type": "quantitative", "axis": {"orient": "left", "values": [-30, -15, 0, 15, 30], "grid": false, "labels": false, "ticks": true, "tickSize": -10, "title": null}}}},
  {"mark": {"type": "bar", "width": 26.7, "color": "#0072BD", "stroke": "#000", "strokeWidth": 1.2},
   "encoding": {"x": {"field": "h", "type": "quantitative", "axis": {"orient": "bottom", "values": [0, 6, 12, 18], "labels": false, "title": null}},
                "y": {"field": "v", "type": "quantitative", "axis": {"orient": "left", "values": [-30, -15, 0, 15, 30], "labels": false, "title": null}}}},
  {"data": {"values": [{"z": 0}]}, "mark": {"type": "rule", "color": "#000", "strokeWidth": 2}, "encoding": {"y": {"field": "z", "type": "quantitative", "axis": null}}},
  {"mark": {"type": "errorbar", "color": "#000", "thickness": 4, "ticks": {"size": 15, "thickness": 6}},
   "encoding": {"x": {"field": "h", "type": "quantitative", "axis": null}, "y": {"field": "v", "type": "quantitative", "axis": null}, "yError": {"field": "e"}}},
  {"data": {"values": [{"l": "(h)"}]}, "mark": "text", "encoding": {"text": {"field": "l"}, "x": {"datum": -3.75, "type": "quantitative", "axis": null}, "y": {"datum": 37.5, "type": "quantitative", "axis": null}}}
 ]},
{"width": 820, "height": 580, "title": "Sulfate", "data": {"name": "bars"}, "transform": [{"filter": "datum.p === 'i'"}],
 "resolve": {"axis": {"x": "independent", "y": "independent"}},
 "layer": [
  {"mark": "point", "encoding": {"x": {"field": "h", "type": "quantitative", "scale": {"domain": [-1.2, 24.2], "nice": false, "zero": false}, "axis": {"orient": "bottom", "values": [-1,0,1,2,3,4,5,6,7,8,9,10,11,12,13,14,15,16,17,18,19,20,21,22,23,24], "labels": false, "title": null, "gridColor": "#c4c4c4", "gridWidth": 1.3}}, "y": {"field": "v", "type": "quantitative", "scale": {"domain": [-40, 40], "nice": false}, "axis": {"orient": "left", "values": [-39,-36,-33,-27,-24,-21,-18,-12,-9,-6,-3,3,6,9,12,18,21,24,27,33,36,39], "labels": false, "title": null, "gridColor": "#c4c4c4", "gridWidth": 1.3}}}},
  {"mark": "point", "encoding": {"x": {"field": "h", "type": "quantitative", "axis": {"orient": "top", "values": [0, 6, 12, 18], "grid": false, "labels": false, "ticks": true, "tickSize": -10, "title": null}}, "y": {"field": "v", "type": "quantitative", "axis": {"orient": "right", "values": [-30, -15, 0, 15, 30], "grid": false, "labels": false, "ticks": true, "tickSize": -10, "title": null}}}},
  {"mark": "point", "encoding": {"x": {"field": "h", "type": "quantitative", "axis": {"orient": "bottom", "values": [0, 6, 12, 18], "grid": false, "labels": false, "ticks": true, "tickSize": -10, "title": null}}, "y": {"field": "v", "type": "quantitative", "axis": {"orient": "left", "values": [-30, -15, 0, 15, 30], "grid": false, "labels": false, "ticks": true, "tickSize": -10, "title": null}}}},
  {"mark": {"type": "bar", "width": 25.8, "color": "#0072BD", "stroke": "#000", "strokeWidth": 1.2},
   "encoding": {"x": {"field": "h", "type": "quantitative", "axis": {"orient": "bottom", "values": [0, 6, 12, 18], "format": ".2f", "labelPadding": 1, "title": "Time (LT)", "titleFontSize": 50, "titlePadding": 0}},
                "y": {"field": "v", "type": "quantitative", "axis": {"orient": "left", "values": [-30, -15, 0, 15, 30], "labelExpr": "'' + datum.value", "labelPadding": 12, "title": "changes (%)", "titlePadding": 10}}}},
  {"data": {"values": [{"z": 0}]}, "mark": {"type": "rule", "color": "#000", "strokeWidth": 2}, "encoding": {"y": {"field": "z", "type": "quantitative", "axis": null}}},
  {"mark": {"type": "errorbar", "color": "#000", "thickness": 4, "ticks": {"size": 15, "thickness": 6}},
   "encoding": {"x": {"field": "h", "type": "quantitative", "axis": null}, "y": {"field": "v", "type": "quantitative", "axis": null}, "yError": {"field": "e"}}},
  {"data": {"values": [{"l": "(i)"}]}, "mark": "text", "encoding": {"text": {"field": "l"}, "x": {"datum": -4.53, "type": "quantitative", "axis": null}, "y": {"datum": 37.5, "type": "quantitative", "axis": null}}}
 ]},
{"width": 848, "height": 580, "title": "Ammonium", "data": {"name": "bars"}, "transform": [{"filter": "datum.p === 'j'"}],
 "resolve": {"axis": {"x": "independent", "y": "independent"}},
 "layer": [
  {"mark": "point", "encoding": {"x": {"field": "h", "type": "quantitative", "scale": {"domain": [-1.2, 24.2], "nice": false, "zero": false}, "axis": {"orient": "bottom", "values": [-1,0,1,2,3,4,5,6,7,8,9,10,11,12,13,14,15,16,17,18,19,20,21,22,23,24], "labels": false, "title": null, "gridColor": "#c4c4c4", "gridWidth": 1.3}}, "y": {"field": "v", "type": "quantitative", "scale": {"domain": [-40, 40], "nice": false}, "axis": {"orient": "left", "values": [-39,-36,-33,-27,-24,-21,-18,-12,-9,-6,-3,3,6,9,12,18,21,24,27,33,36,39], "labels": false, "title": null, "gridColor": "#c4c4c4", "gridWidth": 1.3}}}},
  {"mark": "point", "encoding": {"x": {"field": "h", "type": "quantitative", "axis": {"orient": "top", "values": [0, 6, 12, 18], "grid": false, "labels": false, "ticks": true, "tickSize": -10, "title": null}}, "y": {"field": "v", "type": "quantitative", "axis": {"orient": "right", "values": [-30, -15, 0, 15, 30], "grid": false, "labels": false, "ticks": true, "tickSize": -10, "title": null}}}},
  {"mark": "point", "encoding": {"x": {"field": "h", "type": "quantitative", "axis": {"orient": "bottom", "values": [0, 6, 12, 18], "grid": false, "labels": false, "ticks": true, "tickSize": -10, "title": null}}, "y": {"field": "v", "type": "quantitative", "axis": {"orient": "left", "values": [-30, -15, 0, 15, 30], "grid": false, "labels": false, "ticks": true, "tickSize": -10, "title": null}}}},
  {"mark": {"type": "bar", "width": 26.7, "color": "#0072BD", "stroke": "#000", "strokeWidth": 1.2},
   "encoding": {"x": {"field": "h", "type": "quantitative", "axis": {"orient": "bottom", "values": [0, 6, 12, 18], "format": ".2f", "labelPadding": 1, "title": "Time (LT)", "titleFontSize": 50, "titlePadding": 0}},
                "y": {"field": "v", "type": "quantitative", "axis": {"orient": "left", "values": [-30, -15, 0, 15, 30], "labels": false, "title": null}}}},
  {"data": {"values": [{"z": 0}]}, "mark": {"type": "rule", "color": "#000", "strokeWidth": 2}, "encoding": {"y": {"field": "z", "type": "quantitative", "axis": null}}},
  {"mark": {"type": "errorbar", "color": "#000", "thickness": 4, "ticks": {"size": 15, "thickness": 6}},
   "encoding": {"x": {"field": "h", "type": "quantitative", "axis": null}, "y": {"field": "v", "type": "quantitative", "axis": null}, "yError": {"field": "e"}}},
  {"data": {"values": [{"l": "(j)"}]}, "mark": "text", "encoding": {"text": {"field": "l"}, "x": {"datum": -3.75, "type": "quantitative", "axis": null}, "y": {"datum": 37.5, "type": "quantitative", "axis": null}}}
 ]}
]
}
]
}
